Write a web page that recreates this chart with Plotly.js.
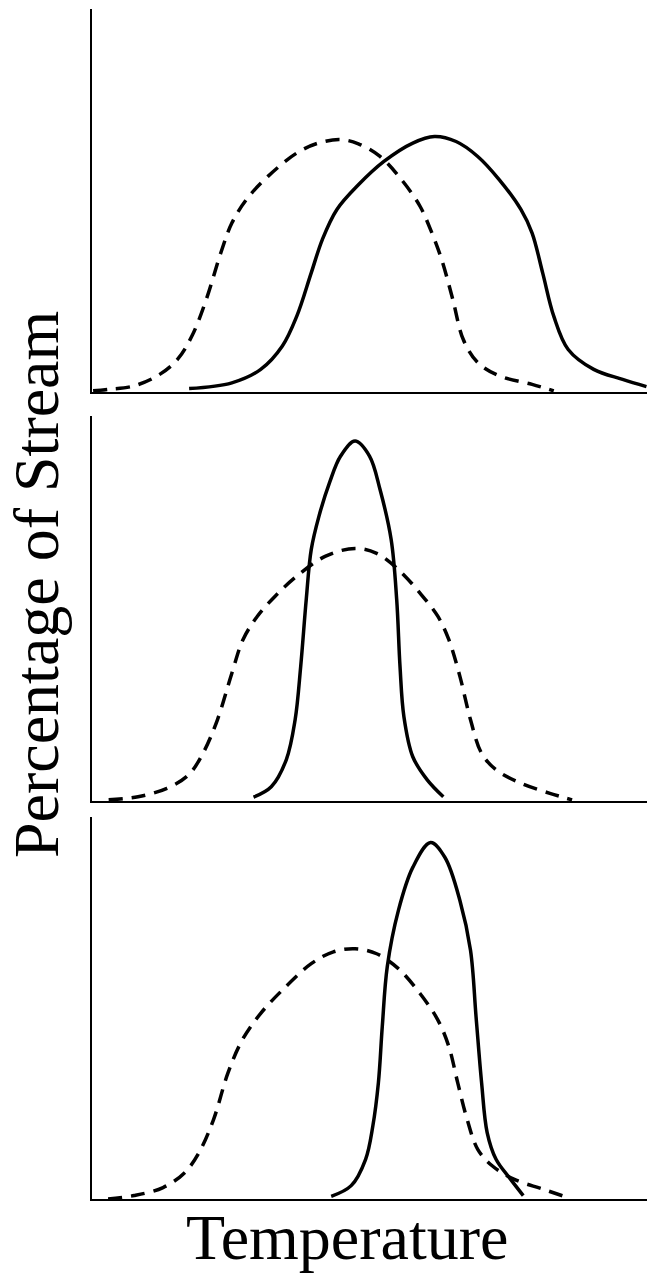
<!DOCTYPE html>
<html>
<head>
<meta charset="utf-8">
<script src="https://cdn.plot.ly/plotly-3.0.1.min.js"></script>
<style>
  html, body { margin: 0; padding: 0; background: white; }
  #chart { width: 647px; height: 1278px; }
</style>
</head>
<body>
<div id="chart"></div>
<script>
// temperature (0-100, arbitrary units) vs percentage of stream (0-100)
// panel 1: both streams broad, shifted
var p1SolidX = [17.5, 25.2, 30.4, 34.3, 36.9, 39.5, 41.5, 44.1, 48.0, 52.6, 57.8, 61.7, 65.6, 69.5, 73.4, 77.3, 79.3, 81.2, 83.2, 85.8, 90.4, 95.6, 99.9];
var p1SolidY = [0.9, 2.4, 5.9, 12.0, 19.8, 31.1, 39.8, 47.6, 54.1, 60.2, 65.0, 66.7, 65.4, 61.5, 55.4, 47.6, 41.5, 31.1, 19.8, 11.1, 5.9, 3.3, 1.4];
var p1DashX = [0.2, 3.0, 7.6, 12.2, 15.4, 18.0, 20.6, 23.2, 25.2, 27.8, 31.7, 36.9, 40.8, 44.8, 48.0, 51.9, 55.8, 59.1, 61.0, 63.0, 65.0, 66.9, 69.5, 73.4, 79.3, 83.2];
var p1DashY = [0.3, 0.7, 1.6, 4.6, 8.5, 14.6, 24.2, 36.3, 44.1, 50.2, 56.3, 62.4, 65.0, 65.9, 64.8, 61.5, 55.4, 48.5, 42.4, 34.6, 24.2, 13.7, 7.7, 4.2, 2.0, 0.3];

// panel 2: narrow solid inside broad dashed, same centre
var p2SolidX = [29.1, 32.3, 35.0, 36.6, 37.6, 38.6, 39.5, 40.9, 42.8, 44.8, 47.4, 50.0, 51.9, 53.9, 54.9, 55.5, 56.2, 57.8, 60.4, 63.3];
var p2SolidY = [1.0, 3.7, 10.7, 21.1, 34.9, 52.3, 65.3, 74.0, 82.7, 89.6, 93.5, 89.6, 80.9, 67.9, 52.3, 34.9, 21.9, 11.5, 5.5, 1.1];
var p2DashX = [3.0, 8.3, 13.5, 17.4, 20.0, 22.6, 25.2, 27.2, 29.8, 33.0, 36.9, 42.1, 47.4, 51.3, 55.2, 59.1, 62.3, 64.3, 66.3, 68.2, 70.2, 72.8, 77.3, 82.5, 86.5];
var p2DashY = [0.3, 1.1, 3.3, 6.8, 12.4, 21.1, 33.2, 41.9, 48.0, 53.2, 58.4, 63.6, 65.6, 64.3, 60.1, 54.0, 48.0, 41.9, 32.3, 21.1, 12.4, 8.1, 4.6, 2.0, 0.3];

// panel 3: narrow solid shifted to the hot side
var p3SolidX = [43.1, 46.7, 49.3, 50.6, 51.6, 52.3, 53.2, 55.2, 57.8, 61.0, 63.6, 66.3, 68.2, 69.2, 70.2, 71.2, 72.8, 75.4, 77.7];
var p3SolidY = [0.7, 3.5, 10.4, 19.1, 30.4, 45.1, 60.8, 75.5, 86.8, 93.3, 89.4, 78.1, 65.1, 47.7, 30.4, 17.4, 10.4, 5.2, 0.9];
var p3DashX = [2.9, 7.6, 12.8, 16.7, 19.3, 21.9, 24.5, 27.1, 30.4, 34.3, 39.5, 43.5, 47.4, 51.3, 55.2, 59.1, 62.3, 64.3, 65.9, 67.6, 69.5, 72.1, 76.0, 81.2, 86.1];
var p3DashY = [0.0, 0.9, 3.0, 6.9, 12.2, 20.8, 33.0, 41.7, 48.6, 54.7, 61.6, 64.7, 65.5, 64.2, 60.3, 53.8, 46.9, 39.9, 30.4, 20.8, 13.0, 8.7, 5.2, 2.6, 0.2];

var xTitle = 'Temperature';
var yTitle = 'Percentage of Stream';

function curve(x, y, xa, ya, dashed) {
    return {
        x: x,
        y: y,
        xaxis: xa,
        yaxis: ya,
        mode: 'lines',
        hoverinfo: 'skip',
        line: {
            color: 'black',
            width: 3.5,
            shape: 'spline',
            smoothing: 1,
            dash: dashed ? '14px,9px' : 'solid'
        }
    };
}

var data = [
    curve(p1DashX, p1DashY, 'x', 'y', true),
    curve(p1SolidX, p1SolidY, 'x', 'y', false),
    curve(p2DashX, p2DashY, 'x2', 'y2', true),
    curve(p2SolidX, p2SolidY, 'x2', 'y2', false),
    curve(p3DashX, p3DashY, 'x3', 'y3', true),
    curve(p3SolidX, p3SolidY, 'x3', 'y3', false)
];

var H = 1278;
function dom(top, bottom) {
    return [1 - bottom / H, 1 - top / H];
}

var xBase = {
    range: [0, 100],
    showline: true,
    linecolor: 'black',
    linewidth: 2,
    ticks: '',
    showticklabels: false,
    showgrid: false,
    zeroline: false,
    fixedrange: true
};
var yBase = Object.assign({}, xBase);

var layout = {
    width: 647,
    height: 1278,
    margin: {l: 92, r: 0, t: 0, b: 0},
    showlegend: false,
    paper_bgcolor: 'white',
    plot_bgcolor: 'white',
    font: {family: '"Liberation Serif", "Times New Roman", serif', color: 'black'},
    xaxis: Object.assign({}, xBase, {anchor: 'y'}),
    xaxis2: Object.assign({}, xBase, {anchor: 'y2'}),
    xaxis3: Object.assign({}, xBase, {anchor: 'y3'}),
    yaxis: Object.assign({}, yBase, {anchor: 'x', domain: dom(9, 392)}),
    yaxis2: Object.assign({}, yBase, {anchor: 'x2', domain: dom(416, 801)}),
    yaxis3: Object.assign({}, yBase, {anchor: 'x3', domain: dom(817, 1199)}),
    annotations: [
        {
            text: xTitle,
            xref: 'paper', yref: 'paper',
            x: (347 - 92) / 555, y: 1 - 1237 / H,
            xanchor: 'center', yanchor: 'middle',
            showarrow: false,
            font: {size: 64}
        },
        {
            text: yTitle,
            xref: 'paper', yref: 'paper',
            x: (36 - 92) / 555, y: 1 - 585 / H,
            xanchor: 'center', yanchor: 'middle',
            textangle: -90,
            showarrow: false,
            font: {size: 64}
        }
    ]
};

Plotly.newPlot('chart', data, layout, {staticPlot: true});
</script>
</body>
</html>
